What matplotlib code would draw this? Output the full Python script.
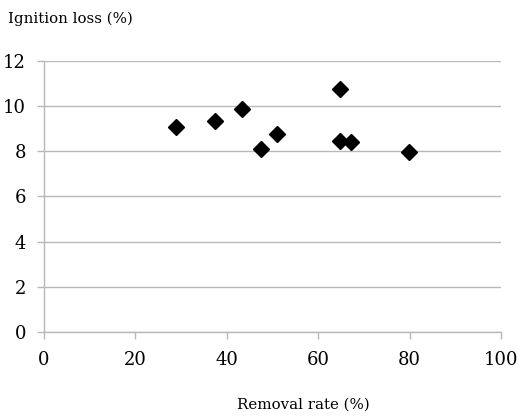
import matplotlib
matplotlib.use("Agg")
import matplotlib.pyplot as plt

removal_rate = [28.9, 37.4, 43.3, 47.5, 51.0, 64.8, 64.8, 67.2, 79.9]
ignition_loss = [9.08, 9.34, 9.88, 8.10, 8.77, 10.76, 8.46, 8.41, 7.97]
x_ticks = [0, 20, 40, 60, 80, 100]
y_ticks = [0, 2, 4, 6, 8, 10, 12]

plt.rcParams['font.family'] = ['DejaVu Serif']

fig = plt.figure(figsize=(5.18, 4.17), dpi=100)
ax = fig.add_axes([0.085, 0.204, 0.882, 0.65])

ax.plot(removal_rate, ignition_loss, linestyle='none', marker='D', ms=8.2,
        color='black', zorder=3)

ax.set_xlim(0, 100)
ax.set_ylim(0, 12)
ax.set_xticks(x_ticks)
ax.set_yticks(y_ticks)
ax.grid(axis='y', color='#b8b8b8', linewidth=1.0)
ax.set_axisbelow(True)

for s in ['top', 'right']:
    ax.spines[s].set_visible(False)
for s in ['left', 'bottom']:
    ax.spines[s].set_color('#b8b8b8')
    ax.spines[s].set_linewidth(1.0)

ax.tick_params(axis='x', direction='out', length=5, color='#b8b8b8', width=1,
               labelsize=13, pad=9)
ax.tick_params(axis='y', direction='out', length=5, color='#b8b8b8', width=1,
               labelsize=13, pad=8)

fig.text(0.015, 0.955, 'Ignition loss (%)', fontsize=10.8, ha='left', va='center')
fig.text(0.585, 0.03, 'Removal rate (%)', fontsize=10.8, ha='center', va='center')

fig.savefig('out.png', dpi=100)
